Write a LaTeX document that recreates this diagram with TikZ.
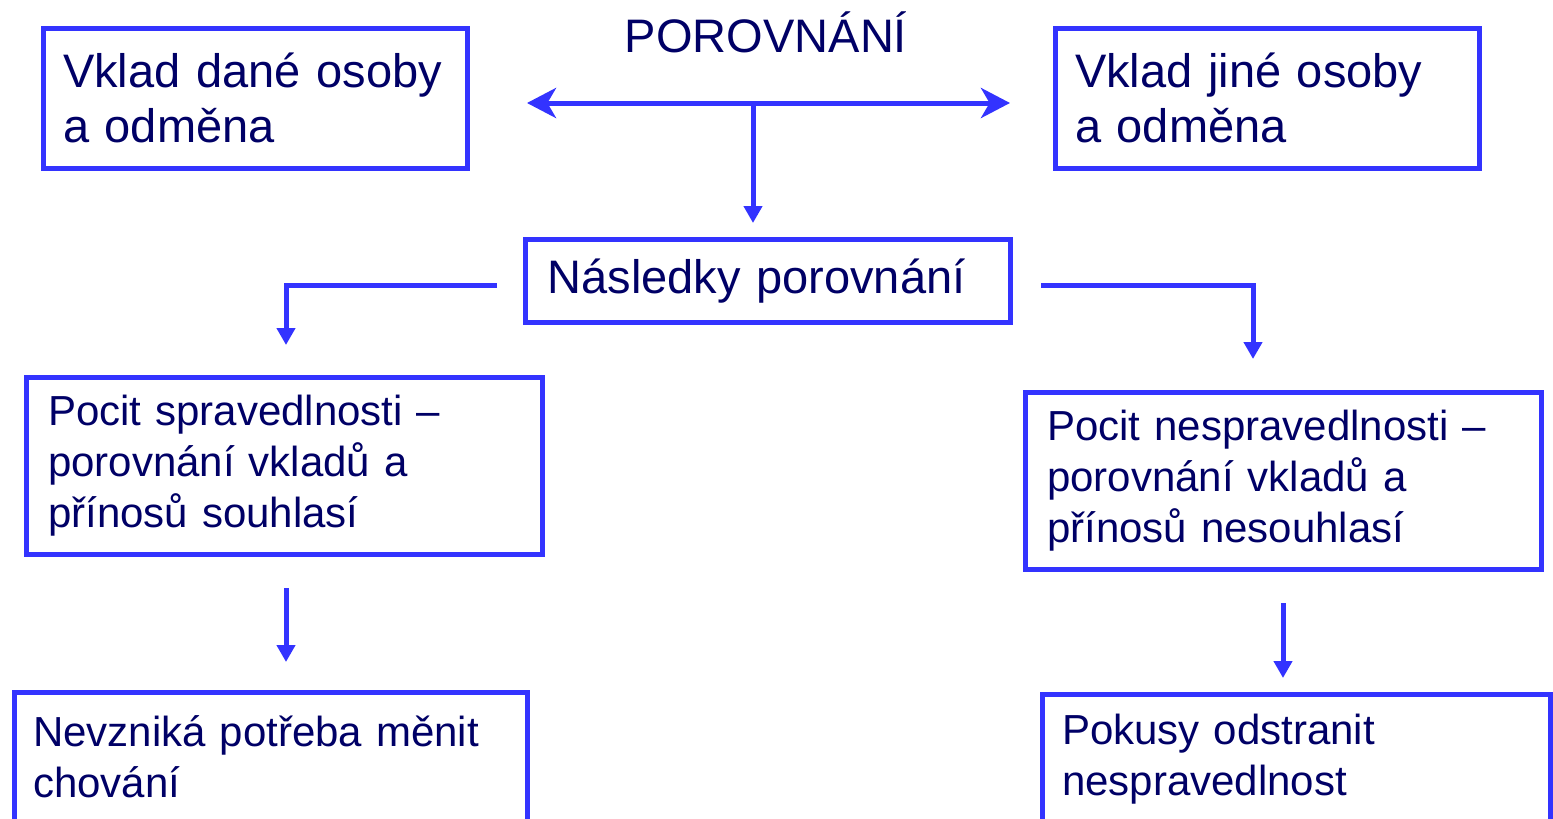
\documentclass[tikz,border=0pt]{standalone}
\usepackage{fontspec}
\setmainfont{Liberation Sans}
\usetikzlibrary{arrows.meta}
\definecolor{boxblue}{RGB}{51,51,255}
\definecolor{textnavy}{RGB}{0,0,102}

\begin{document}
\begin{tikzpicture}[x=0.5pt, y=-0.5pt]

% Define block styles
\tikzstyle{block} = [rectangle, draw=boxblue, line width=2.5pt, text=textnavy, align=left, inner ysep=0pt]
\tikzstyle{bigtext} = [font=\fontsize{23.5}{27.5}\selectfont]
\tikzstyle{smalltext} = [font=\fontsize{21}{25.5}\selectfont]
\tikzstyle{arrow} = [draw=boxblue, line width=2.5pt, -{Triangle[length=8.5pt, width=9pt]}]
\tikzstyle{twoway} = [draw=boxblue, line width=2.5pt, {Stealth[length=14.5pt, width=15pt, inset=4.3pt]}-{Stealth[length=14.5pt, width=15pt, inset=4.3pt]}]

\useasboundingbox (0,0) rectangle (1553,819);

% Nodes
\node (title) [bigtext, text=textnavy, anchor=base, inner sep=0pt] at (766,52) {POROVNÁNÍ};
\node (own) [block, bigtext, minimum width=212pt, minimum height=70pt, text width=192pt, inner xsep=10pt] at (255,98) {Vklad dané osoby\\a odměna};
\node (other) [block, bigtext, minimum width=212pt, minimum height=70pt, text width=192pt, inner xsep=10pt] at (1267,98) {Vklad jiné osoby\\a odměna};
\node (result) [block, bigtext, minimum width=242.5pt, minimum height=41.5pt, text width=220.5pt, inner xsep=11pt] at (768,281) {Následky porovnání};
\node (fair) [block, smalltext, minimum width=258pt, minimum height=88.5pt, text width=236pt, inner xsep=11pt] at (284,465.5) {Pocit spravedlnosti –\\porovnání vkladů a\\přínosů souhlasí};
\node (unfair) [block, smalltext, minimum width=258pt, minimum height=88.5pt, text width=236pt, inner xsep=11pt] at (1283,481) {Pocit nespravedlnosti –\\porovnání vkladů a\\přínosů nesouhlasí};
\node (keep) [block, smalltext, minimum width=256.5pt, minimum height=65pt, text width=237.5pt, inner xsep=9.5pt] at (270.5,757) {Nevzniká potřeba měnit\\chování};
\node (remove) [block, smalltext, minimum width=254pt, minimum height=65pt, text width=234pt, inner xsep=10pt] at (1296,759) {Pokusy odstranit\\nespravedlnost};

% Arrow ends
\coordinate (cmpL) at (527,103);
\coordinate (cmpR) at (1010,103);
\coordinate (split) at (753,103);
\coordinate (splittip) at (753,223);
\coordinate (leftstart) at (497,285);
\coordinate (lefttip) at (286,345);
\coordinate (rightstart) at (1041,285);
\coordinate (righttip) at (1253,359);
\coordinate (fairout) at (286,588);
\coordinate (fairtip) at (286,662);
\coordinate (unfairout) at (1283,603);
\coordinate (unfairtip) at (1283,678);

% Arrows
\draw [twoway] (cmpL) -- (cmpR);
\draw [arrow] (split) -- (splittip);
\draw [arrow] (leftstart) -| (lefttip);
\draw [arrow] (rightstart) -| (righttip);
\draw [arrow] (fairout) -- (fairtip);
\draw [arrow] (unfairout) -- (unfairtip);

\end{tikzpicture}
\end{document}
